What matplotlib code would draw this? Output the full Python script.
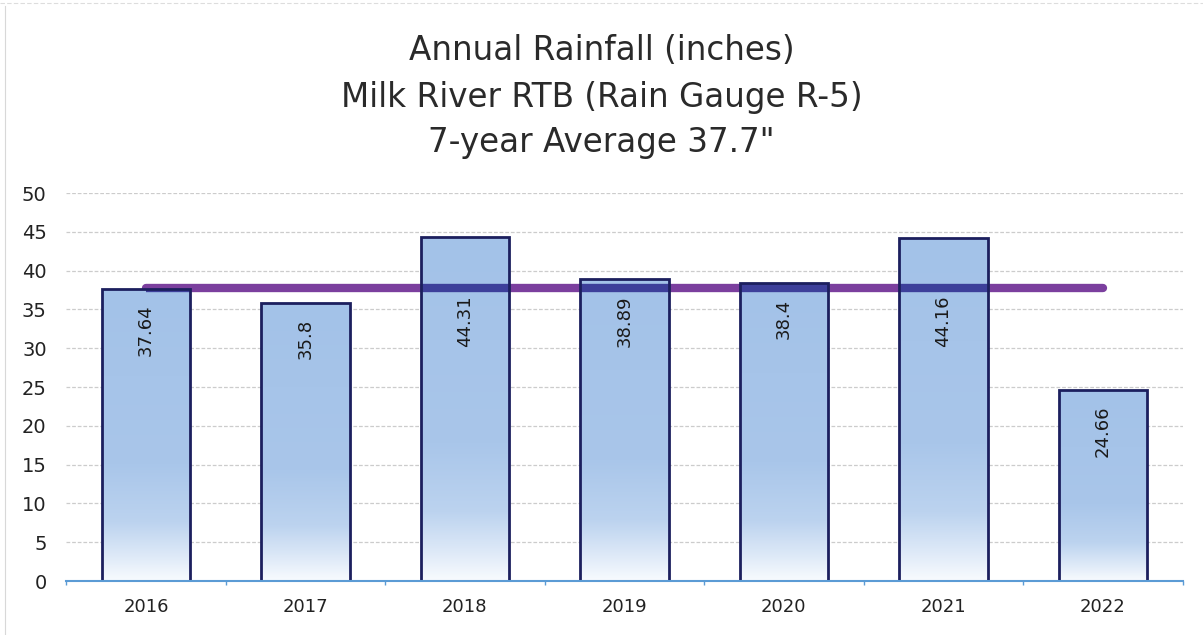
import matplotlib
matplotlib.use("Agg")
import matplotlib.pyplot as plt
import numpy as np
from matplotlib.patches import Rectangle
from matplotlib.colors import LinearSegmentedColormap

years = ["2016", "2017", "2018", "2019", "2020", "2021", "2022"]
rainfall = [37.64, 35.8, 44.31, 38.89, 38.4, 44.16, 24.66]
labels = ["37.64", "35.8", "44.31", "38.89", "38.4", "44.16", "24.66"]
average = 37.7
title_lines = ["Annual Rainfall (inches)", "Milk River RTB (Rain Gauge R-5)", "7-year Average 37.7\""]
yticks = [0, 5, 10, 15, 20, 25, 30, 35, 40, 45, 50]

plt.rcParams['font.family'] = ['DejaVu Sans']

fig = plt.figure(figsize=(12.03, 6.35), dpi=100)
ax = fig.add_axes([0.055, 0.085, 0.928, 0.611])
ax.set_xlim(-0.5, len(years) - 0.5)
ax.set_ylim(0, 50)

x = np.arange(len(years))
width = 0.555

# gridlines
for t in yticks[1:]:
    ax.axhline(t, color='#cccccc', lw=0.9, ls=(0, (3, 1.5)), zorder=0)

# average line
ax.plot([x[0], x[-1]], [average, average], color='#7b3f9e', lw=6,
        solid_capstyle='round', zorder=1)

cmap = LinearSegmentedColormap.from_list('g', [(0.0, '#f8fbfe'), (0.08, '#dfeaf8'),
                                              (0.2, '#bcd3ef'), (0.4, '#a9c6ea'),
                                              (1.0, '#a3c2e8')])
grad = np.linspace(0, 1, 256).reshape(-1, 1)

bars = ax.bar(x, rainfall, width=width, facecolor='none', edgecolor='#1c1f5e',
              lw=2.0, zorder=4)
for xi, v, b in zip(x, rainfall, bars):
    im = ax.imshow(grad, extent=[xi - width / 2, xi + width / 2, 0, v], origin='lower',
                   cmap=cmap, aspect='auto', zorder=2, interpolation='bilinear')
    clip = Rectangle((xi - width / 2, 0), width, v, transform=ax.transData)
    im.set_clip_path(clip)
    # average line seen through the bar
    if v > average - 0.5:
        seg, = ax.plot([max(xi - width / 2, x[0]), min(xi + width / 2, x[-1])],
                       [average, average], color='#3d3f9a', lw=6, zorder=3,
                       solid_capstyle='butt')
        seg.set_clip_path(Rectangle((xi - width / 2, 0), width, v, transform=ax.transData))

for xi, v, lab in zip(x, rainfall, labels):
    ytop = min(v - 2.0, 36.8)
    ax.text(xi, ytop, lab, rotation=90, ha='center', va='top', fontsize=13,
            color='#1a1a1a', zorder=5)

ax.set_xticks(x)
ax.set_xticklabels(years, fontsize=13, color='#222222')
ax.set_yticks(yticks)
ax.set_yticklabels([str(t) for t in yticks], fontsize=14, color='#222222')
ax.tick_params(axis='y', length=0, pad=14)
ax.tick_params(axis='x', length=0, pad=12)
ax.set_xticks(np.arange(-0.5, len(years), 1.0), minor=True)
ax.tick_params(axis='x', which='minor', length=3, color='#5b9bd5', width=1.0)

for s in ['top', 'right', 'left']:
    ax.spines[s].set_visible(False)
ax.spines['bottom'].set_color('#5b9bd5')
ax.spines['bottom'].set_linewidth(1.5)
ax.spines['bottom'].set_zorder(6)

for yy, line in zip([0.921, 0.847, 0.776], title_lines):
    fig.text(0.5, yy, line, ha='center', va='center', fontsize=23.5, color='#2a2a2a')

# faint chart border
fig.add_artist(plt.Line2D([0.004, 0.004], [0.0, 0.99], color='#d8d8d8', lw=0.8))
fig.add_artist(plt.Line2D([0.0, 1.0], [0.995, 0.995], color='#dddddd', lw=0.8, ls=(0, (4, 2))))

fig.savefig('out.png', dpi=100)
